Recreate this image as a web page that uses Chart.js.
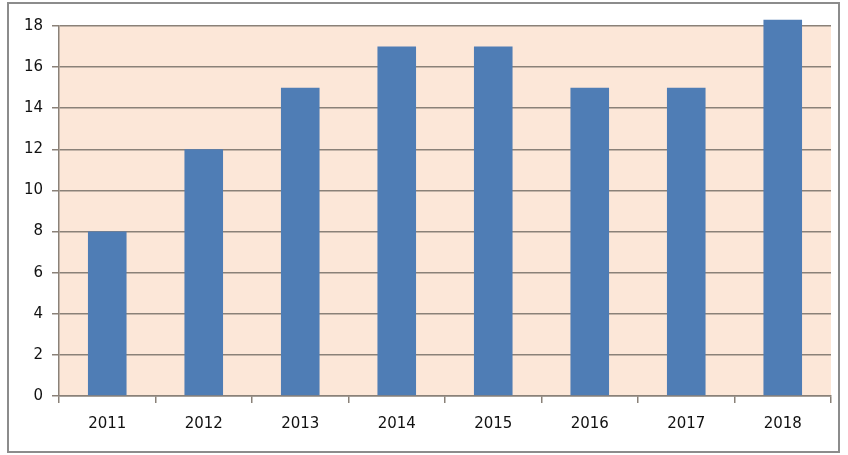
<!DOCTYPE html>
<html><head><meta charset="utf-8">
<script src="https://cdn.jsdelivr.net/npm/chart.js@4"></script>
<style>
html,body{margin:0;padding:0;background:#fff;}
#wrap{position:relative;width:848px;height:455px;}
#frame{position:absolute;left:7px;top:2px;width:829px;height:447px;border:2px solid #8c8c8c;box-sizing:content-box;pointer-events:none;}
canvas{position:absolute;left:0;top:0;}
</style></head>
<body>
<div id="wrap"><canvas id="c" width="848" height="455"></canvas><div id="frame"></div></div>
<script>
const categories = ['2011','2012','2013','2014','2015','2016','2017','2018'];
const values = [8, 12, 15, 17, 17, 15, 15, 18.3];
const yTicks = [0,2,4,6,8,10,12,14,16,18];

const bgPlugin = {
  id:'bg',
  beforeDraw(chart){
    const {ctx, chartArea:a} = chart;
    ctx.save(); ctx.fillStyle = '#fce7d8';
    ctx.fillRect(a.left, a.top, a.right-a.left, a.bottom-a.top);
    ctx.restore();
  }
};

new Chart(document.getElementById('c'), {
  type:'bar',
  data:{labels:categories, datasets:[{data:values, backgroundColor:'#4f7db5', borderWidth:0, categoryPercentage:0.4, barPercentage:1.0, clip:false}]},
  options:{
    responsive:false, animation:false, devicePixelRatio:1,
    layout:{padding:{left:0,right:17,top:26,bottom:0}},
    plugins:{legend:{display:false}, tooltip:{enabled:false}},
    scales:{
      x:{
        grid:{offset:true, drawOnChartArea:false, color:'#8a8178', lineWidth:1.5, tickLength:7},
        border:{color:'#8a8178', width:1.5},
        ticks:{color:'#111', font:{family:'DejaVu Sans', size:15}, padding:12, maxRotation:0},
        afterFit(s){ s.height = 59; }
      },
      y:{
        min:0, max:18,
        afterBuildTicks(s){ s.ticks = yTicks.map(v=>({value:v})); },
        grid:{color:'#8a8178', lineWidth:1.5, tickLength:7},
        border:{color:'#8a8178', width:1.5},
        ticks:{color:'#111', font:{family:'DejaVu Sans', size:15}, padding:9},
        afterFit(s){ s.width = 59; }
      }
    }
  },
  plugins:[bgPlugin]
});
</script>
</body></html>
